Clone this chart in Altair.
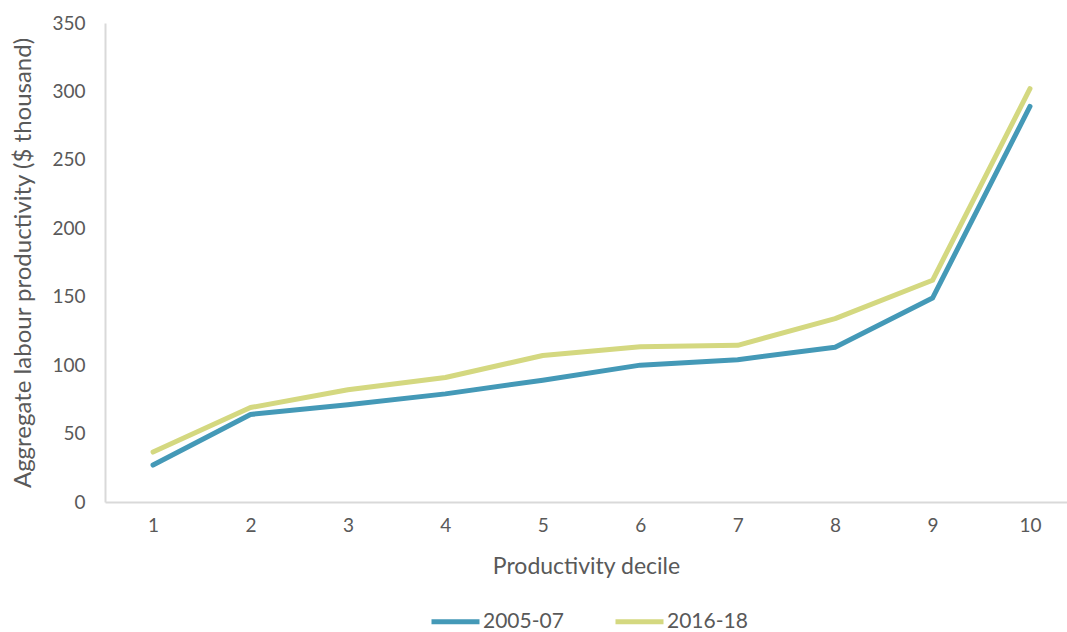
import altair as alt
import pandas as pd

# Aggregate labour productivity by productivity decile ($ thousand)
deciles = [1, 2, 3, 4, 5, 6, 7, 8, 9, 10]
period_a = [27, 64, 71, 79, 89, 100, 104, 113, 149, 289]
period_b = [36.5, 69, 82, 91, 107, 113.5, 114.5, 134, 162, 302]
series_names = ["2005-07", "2016-18"]
series_colors = ["#4499b7", "#d4d880"]

rows = []
for name, vals in zip(series_names, [period_a, period_b]):
    for d, v in zip(deciles, vals):
        rows.append({"decile": d, "value": v, "series": name})
df = pd.DataFrame(rows)

FONT = "Lato"
GREY = "#595959"

chart = (
    alt.Chart(df)
    .mark_line(strokeWidth=5, strokeCap="round", strokeJoin="round")
    .encode(
        x=alt.X(
            "decile:Q",
            scale=alt.Scale(domain=[0.507, 10.38], nice=False, zero=False),
            axis=alt.Axis(
                values=deciles,
                format="d",
                title="Productivity decile",
                grid=False,
                ticks=False,
                domainColor="#d9d9d9",
                domainWidth=2,
                labelFontSize=19,
                labelColor=GREY,
                labelPadding=14,
                labelFont=FONT,
                titleFont=FONT,
                titleFontSize=23,
                titleFontWeight="normal",
                titleColor=GREY,
                titlePadding=20,
            ),
        ),
        y=alt.Y(
            "value:Q",
            scale=alt.Scale(domain=[0, 350], nice=False),
            axis=alt.Axis(
                values=[0, 50, 100, 150, 200, 250, 300, 350],
                title="Aggregate labour productivity ($ thousand)",
                grid=False,
                ticks=False,
                domainColor="#d9d9d9",
                domainWidth=2,
                labelFontSize=19,
                labelColor=GREY,
                labelPadding=20,
                labelFont=FONT,
                titleFont=FONT,
                titleFontSize=24,
                titleFontWeight="normal",
                titleColor=GREY,
                titlePadding=16,
            ),
        ),
        color=alt.Color(
            "series:N",
            scale=alt.Scale(domain=series_names, range=series_colors),
            legend=alt.Legend(
                title=None,
                orient="none",
                direction="horizontal",
                legendX=324,
                legendY=572,
                symbolType="stroke",
                symbolSize=2304,
                symbolStrokeWidth=5,
                labelFontSize=21,
                labelColor=GREY,
                labelFont=FONT,
                labelOffset=1,
                columnPadding=41,
            ),
        ),
    )
    .properties(
        width=962,
        height=479,
        autosize=alt.AutoSizeParams(type="none"),
        padding={"left": 105, "top": 23, "right": 0, "bottom": 130},
    )
    .configure(background="white")
    .configure_view(stroke=None)
)

chart.save("out.html", embed_options={"renderer": "svg", "actions": False})
